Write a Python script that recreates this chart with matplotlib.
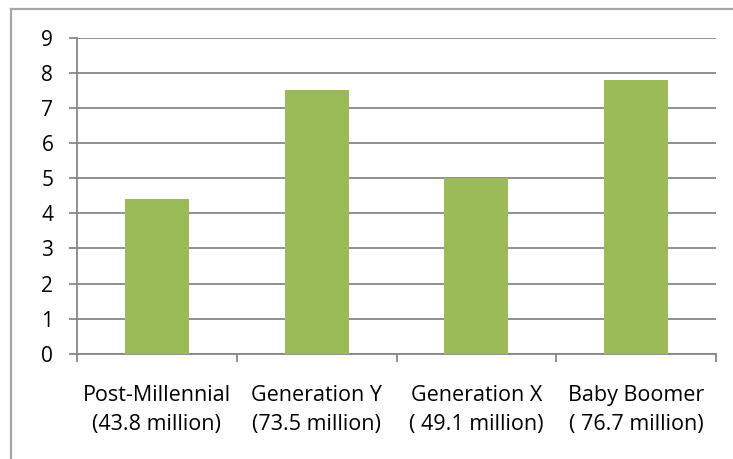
import matplotlib.pyplot as plt
from matplotlib.lines import Line2D

# Data
categories = ['Post-Millennial\n(43.8 million)', 'Generation Y\n(73.5 million)',
              'Generation X\n( 49.1 million)', 'Baby Boomer\n( 76.7 million)']
values = [4.4, 7.5, 5.0, 7.8]
y_ticks = list(range(0, 10))

plt.rcParams['font.family'] = ['Open Sans', 'DejaVu Sans']

fig = plt.figure(figsize=(7.33, 4.59), dpi=100)
fig.patch.set_facecolor('white')
ax = fig.add_axes([0.105, 0.2288, 0.872, 0.6895])

grid_col = '#878787'
x = list(range(len(categories)))
ax.bar(x, values, width=0.4, color='#9BBB59', zorder=3)

ax.set_xlim(-0.5, len(categories) - 0.5)
ax.set_ylim(0, 9)
ax.set_yticks(y_ticks)
ax.yaxis.grid(True, color=grid_col, linewidth=1.3, zorder=0)

# category boundaries as major ticks, labels on minor ticks
ax.set_xticks([i - 0.5 for i in range(len(categories) + 1)])
ax.set_xticklabels([])
ax.set_xticks(x, minor=True)
ax.set_xticklabels(categories, minor=True, fontsize=15.5, linespacing=1.55)
ax.tick_params(axis='x', which='major', direction='out', length=6, width=1.3, color=grid_col)
ax.tick_params(axis='x', which='minor', length=0, pad=22)
ax.tick_params(axis='y', direction='out', length=6, width=1.3, color=grid_col,
               labelsize=15, pad=11)

for s in ['top', 'right']:
    ax.spines[s].set_visible(False)
for s in ['left', 'bottom']:
    ax.spines[s].set_color(grid_col)
    ax.spines[s].set_linewidth(1.3)

# outer chart frame (left and top edges visible)
frame_col = '#A6A6A6'
fig.add_artist(Line2D([11 / 733, 11 / 733], [0, 1 - 9 / 459], color=frame_col, lw=1.6,
                      transform=fig.transFigure))
fig.add_artist(Line2D([11 / 733, 1], [1 - 9 / 459, 1 - 9 / 459], color=frame_col, lw=1.6,
                      transform=fig.transFigure))

fig.savefig('out.png', dpi=100, facecolor='white')
